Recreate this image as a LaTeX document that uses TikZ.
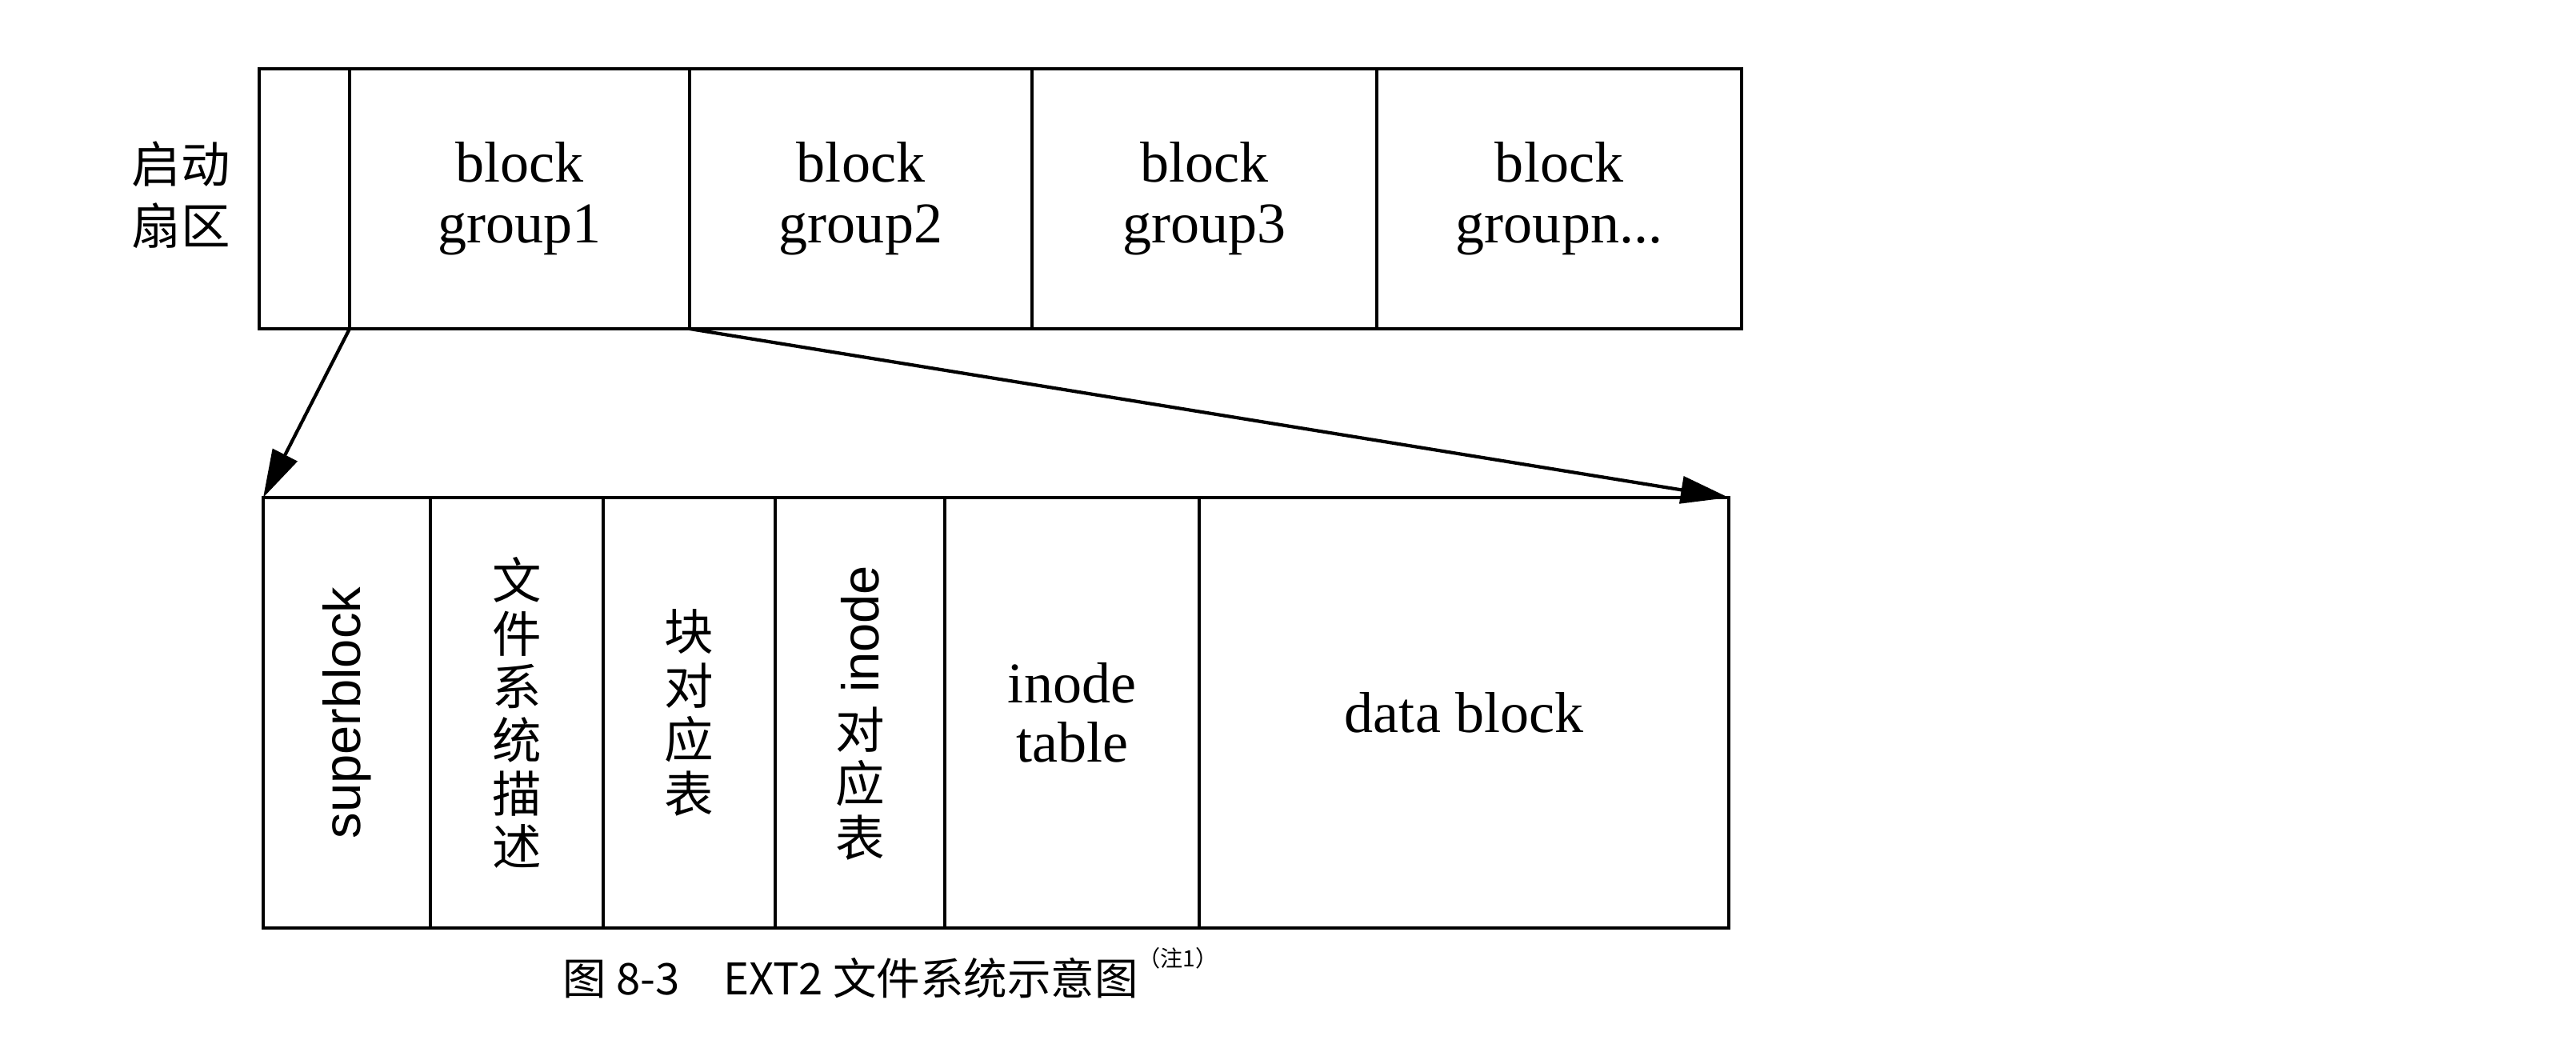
\documentclass[tikz,border=0pt]{standalone}
\usepackage{fontspec}
\setmainfont{Liberation Serif}
\setsansfont{Liberation Sans}
\newfontfamily\cjk{Noto Sans CJK SC}
\usetikzlibrary{positioning,arrows.meta}
\tikzset{
  topcell/.style={draw, line width=1.3pt, inner sep=0pt, outer sep=0pt, minimum height=3.25cm, align=center, font=\fontsize{20.5}{21.5}\selectfont},
  subcell/.style={draw, line width=1.3pt, inner sep=0pt, outer sep=0pt, minimum height=5.38cm, align=center, font=\fontsize{20.5}{21}\selectfont},
  vtext/.style={font=\cjk\fontsize{17.5}{19}\selectfont},
  sidelabel/.style={align=center, font=\cjk\fontsize{17.5}{22}\selectfont},
  zoomarrow/.style={-{Triangle[length=6mm, width=3.4mm]}, line width=1.2pt}
}

\begin{document}
\begin{tikzpicture}
  \useasboundingbox (0,0) rectangle (32.2,13.04);
  % partition
  \node[topcell, minimum width=1.13cm] (boot) at (3.805,10.555) {};
  \node[topcell, minimum width=4.25cm] (g1) at (6.495,10.555) {block\\group1};
  \node[topcell, minimum width=4.28cm] (g2) at (10.76,10.555) {block\\group2};
  \node[topcell, minimum width=4.31cm] (g3) at (15.055,10.555) {block\\group3};
  \node[topcell, minimum width=4.56cm] (gn) at (19.49,10.555) {block\\groupn...};
  \node[sidelabel] (bootlabel) at (2.26,10.6) {启动\\扇区};
  % one block group
  \node[subcell, minimum width=2.09cm] (sb) at (4.335,4.13) {\rotatebox{90}{\sffamily\fontsize{18.5}{20}\selectfont superblock}};
  \node[subcell, minimum width=2.16cm, vtext] (fs) at (6.46,4.13) {\shortstack{文\\件\\系\\统\\描\\述}};
  \node[subcell, minimum width=2.15cm, vtext] (bm) at (8.615,4.13) {\shortstack{块\\对\\应\\表}};
  \node[subcell, minimum width=2.12cm, vtext] (im) at (10.75,4.13) {\shortstack{\rotatebox{90}{\sffamily\fontsize{18.5}{20}\selectfont inode}\\[2pt]对\\应\\表}};
  \node[subcell, minimum width=3.18cm] (it) at (13.40,4.13) {inode\\table};
  \node[subcell, minimum width=6.62cm] (db) at (18.30,4.13) {data block};
  \draw[zoomarrow] (g1.south west) -- (sb.north west);
  \draw[zoomarrow] (g1.south east) -- (db.north east);
  \node[font=\cjk\fontsize{15.5}{17}\selectfont] (caption) at (11.13,0.88) {图 8-3\quad EXT2 文件系统示意图\raisebox{1.2ex}{\fontsize{8}{9}\selectfont（注1）}};
\end{tikzpicture}
\end{document}
